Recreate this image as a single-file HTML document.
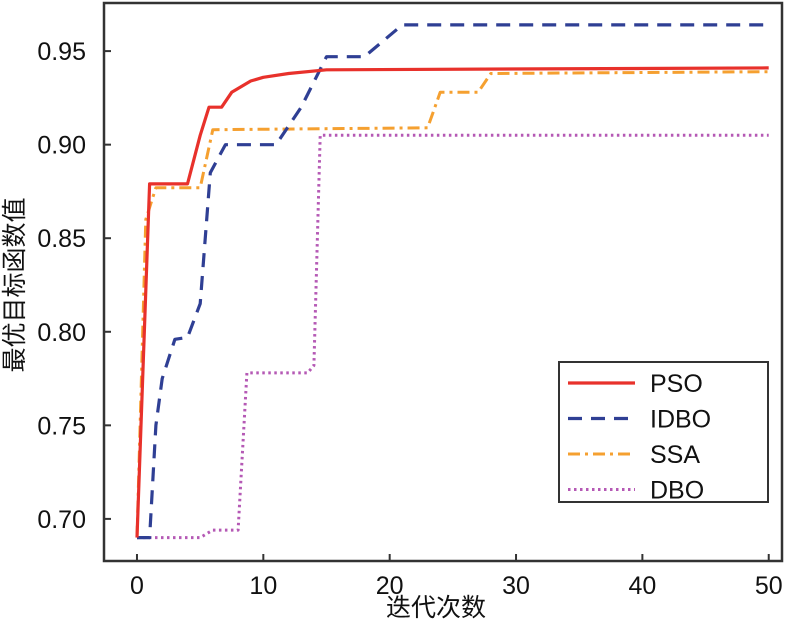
<!DOCTYPE html>
<html><head><meta charset="utf-8"><style>
body{margin:0;background:#fff}
svg text{font-family:"Liberation Sans","Noto Sans CJK SC",sans-serif;fill:#111}
</style></head><body>
<svg width="786" height="625" id="chart">
<g id="plot"></g>
</svg>
<script>
const xTicks=[0,10,20,30,40,50];
const yTicks=[0.70,0.75,0.80,0.85,0.90,0.95];
const yTickLabels=["0.70","0.75","0.80","0.85","0.90","0.95"];
const seriesNames=["PSO","IDBO","SSA","DBO"];
const psoX=[0,1,4,5,5.7,6.7,7.5,9,10,12,15,50];
const psoY=[0.69,0.879,0.879,0.905,0.92,0.92,0.928,0.934,0.936,0.938,0.940,0.941];
const idboX=[0,1,1.5,2,3,4,5,5.8,7,11,13,15,18,21,50];
const idboY=[0.69,0.69,0.75,0.775,0.796,0.797,0.815,0.885,0.9,0.9,0.92,0.947,0.947,0.964,0.964];
const ssaX=[0,0.7,1.5,5,6,23,24,27,28,50];
const ssaY=[0.69,0.86,0.877,0.877,0.908,0.909,0.928,0.928,0.938,0.939];
const dboX=[0,5,6,8,8.7,13.5,14,14.5,50];
const dboY=[0.69,0.69,0.694,0.694,0.778,0.778,0.782,0.905,0.905];

const L=104,R=782,T=3,B=561;
const xMin=-2.61,xMax=51.05,yMin=0.6775,yMax=0.9757;
const sx=v=>L+(v-xMin)/(xMax-xMin)*(R-L);
const sy=v=>B-(v-yMin)/(yMax-yMin)*(B-T);
const NS="http://www.w3.org/2000/svg";
const svg=document.getElementById('chart');
function mk(t,a,p){const e=document.createElementNS(NS,t);for(const k in a)e.setAttribute(k,a[k]);(p||svg).appendChild(e);return e;}

const styles=[
 {c:"#e8312b",d:"",w:3.2},
 {c:"#2f3f94",d:"14,9",w:3.2},
 {c:"#f5a030",d:"12,5,3,5",w:3},
 {c:"#b559b5",d:"2.5,3.5",w:3}
];
const xs=[psoX,idboX,ssaX,dboX], ys=[psoY,idboY,ssaY,dboY];
const order=[3,2,1,0];
order.forEach(i=>{
  const pts=xs[i].map((x,j)=>sx(x).toFixed(1)+","+sy(ys[i][j]).toFixed(1)).join(" ");
  const pl=mk('polyline',{points:pts,fill:"none",stroke:styles[i].c,"stroke-width":styles[i].w,"stroke-dasharray":styles[i].d,"stroke-linejoin":"round"});
  
  
});

const frame=mk('rect',{x:L,y:T,width:R-L,height:B-T,fill:"none",stroke:"#333","stroke-width":2.5});



xTicks.forEach(v=>{
  mk('line',{x1:sx(v),x2:sx(v),y1:B,y2:B-7,stroke:"#333","stroke-width":2});
  const t=mk('text',{x:sx(v),y:B+33,"font-size":25,"text-anchor":"middle"});
  t.textContent=v;
  
  
});
yTicks.forEach((v,i)=>{
  mk('line',{x1:L,x2:L+7,y1:sy(v),y2:sy(v),stroke:"#333","stroke-width":2});
  const t=mk('text',{x:86,y:sy(v)+9,"font-size":25,"text-anchor":"end"});
  t.textContent=yTickLabels[i];
  
  
});
const xt=mk('text',{x:436,y:616,"font-size":25,"text-anchor":"middle"});
xt.textContent="迭代次数";


const yt=mk('text',{x:0,y:0,"font-size":25,"text-anchor":"middle",transform:"translate(23,285) rotate(-90)"});
yt.textContent="最优目标函数值";



const lg=mk('g',{});


mk('rect',{x:559,y:362,width:209,height:140,fill:"#fff",stroke:"#333","stroke-width":2},lg);
seriesNames.forEach((n,i)=>{
  const y=383+i*35.5;
  const ln=mk('line',{x1:568,x2:635,y1:y,y2:y,stroke:styles[i].c,"stroke-width":styles[i].w,"stroke-dasharray":styles[i].d},lg);
  
  
  const t=mk('text',{x:650,y:y+9,"font-size":25},lg);
  t.textContent=n;
  
  
});
</script>
</body></html>
